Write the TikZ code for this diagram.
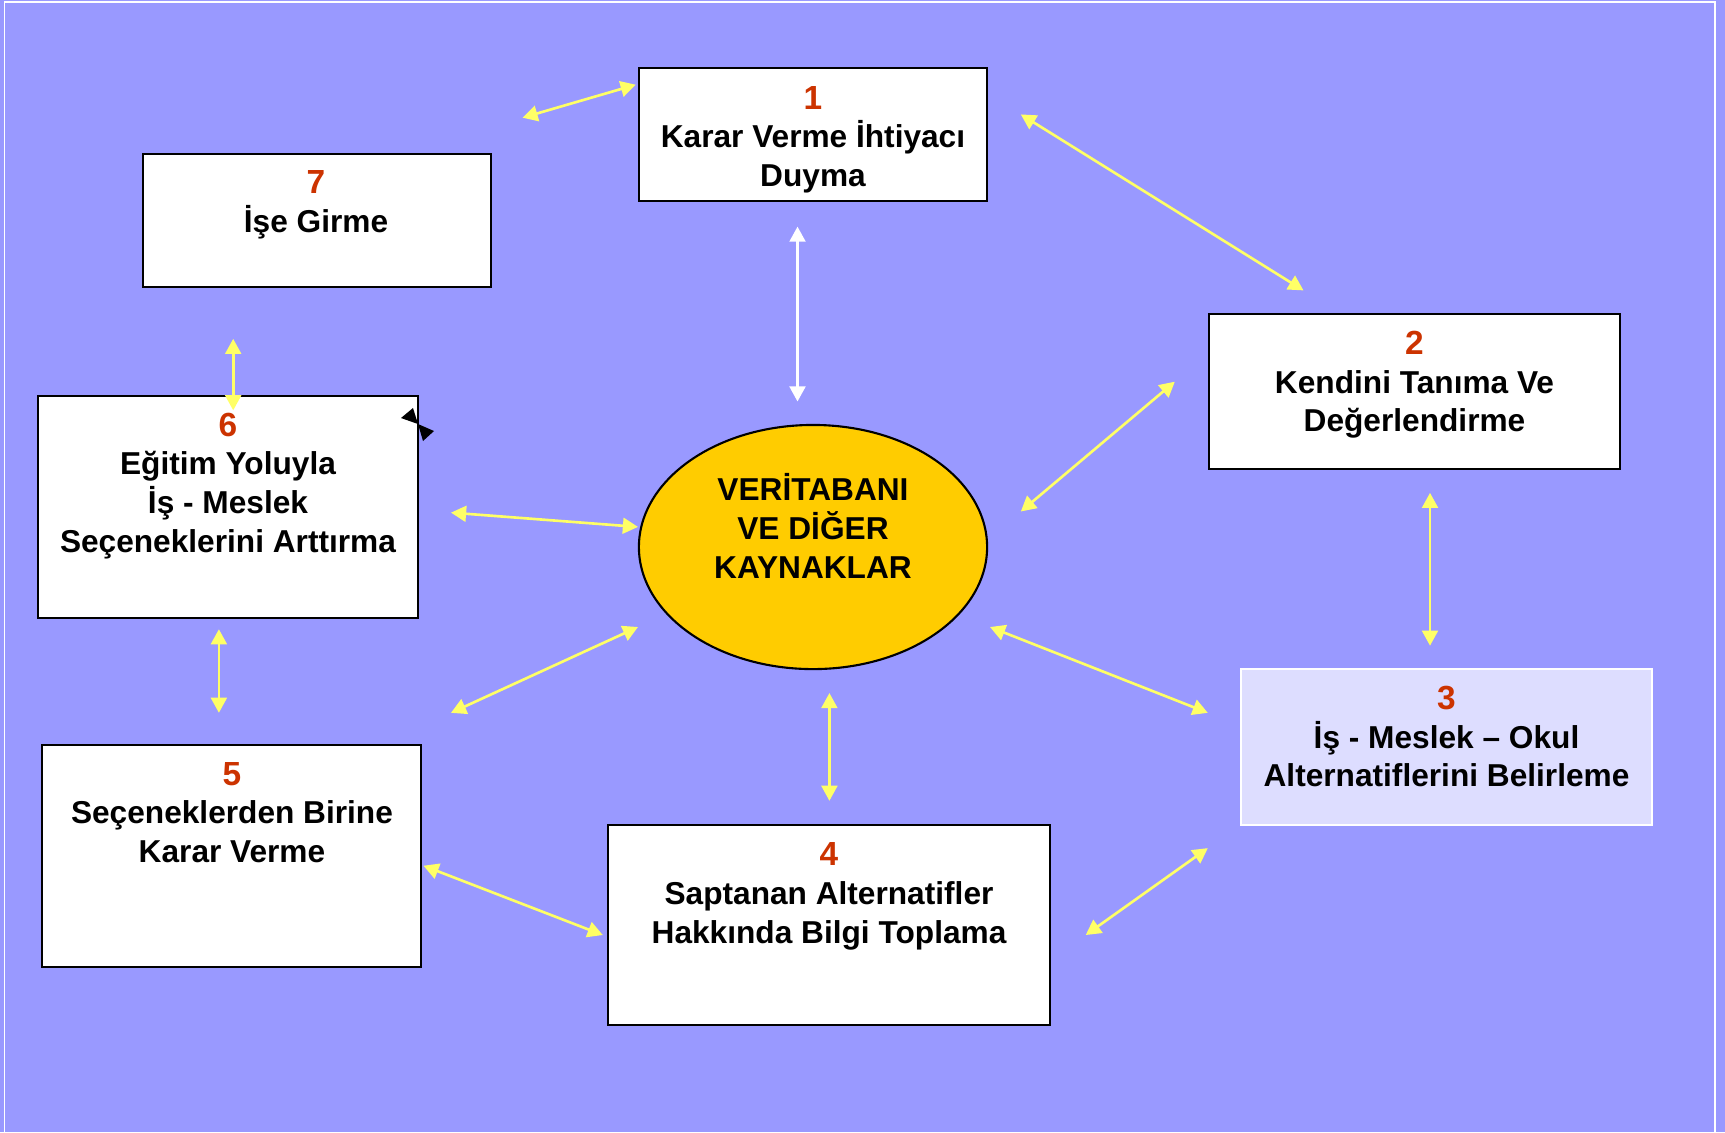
\documentclass[tikz,border=0pt]{standalone}
\usepackage{fontspec}
\setmainfont{Liberation Sans}
\usetikzlibrary{arrows.meta,shapes.geometric}

\definecolor{bgblue}{HTML}{9999FF}
\definecolor{numred}{HTML}{CC3300}
\definecolor{boxlilac}{HTML}{DDDDFF}
\definecolor{dbgold}{HTML}{FFCC00}
\definecolor{linkyellow}{HTML}{FFFF66}

\newcommand{\boxnum}[1]{{\fontsize{9.5}{11}\selectfont\color{numred}#1}}

\begin{document}
\begin{tikzpicture}[x=0.01cm,y=-0.01cm,
    stage/.style={draw=black,line width=0.6pt,fill=white,inner sep=0pt},
    stagetext/.style={anchor=north,align=center,inner sep=0pt,
      font=\bfseries\fontsize{9}{11}\selectfont},
    link/.style={draw=linkyellow,line width=0.75pt,
      {Triangle[length=4.3pt,width=4.5pt]}-{Triangle[length=4.3pt,width=4.5pt]}}]
          \useasboundingbox (0,0) rectangle (1725,1132);
          \fill[bgblue] (0,0) rectangle (1725,1132);
          \draw[white,line width=0.45pt] (4.5,2) rectangle (1715,1150);

          % kutular
          \node[stage,minimum width=3.48cm,minimum height=1.33cm] (karar) at (813,134.5) {};
          \node[stage,minimum width=3.48cm,minimum height=1.33cm] (ise) at (317,220.5) {};
          \node[stage,minimum width=4.11cm,minimum height=1.55cm] (kendini) at (1414.5,391.5) {};
          \node[stage,minimum width=3.795cm,minimum height=2.22cm] (egitim) at (228,507) {};
          \node[stage,draw=white,fill=boxlilac,minimum width=4.11cm,minimum height=1.56cm] (alternatif) at (1446.5,747) {};
          \node[stage,minimum width=3.79cm,minimum height=2.22cm] (secenek) at (231.5,856) {};
          \node[stage,minimum width=4.42cm,minimum height=2.0cm] (bilgi) at (829,925) {};
          \node[ellipse,draw=black,line width=0.6pt,fill=dbgold,inner sep=0pt,
                minimum width=3.48cm,minimum height=2.44cm] (kaynak) at (813,547) {};

          \node[stagetext] (kararyazi) at (813,85.5) {\boxnum{1}\\Karar Verme İhtiyacı\\Duyma};
          \node[stagetext] (iseyazi) at (316,170) {\boxnum{7}\\İşe Girme};
          \node[stagetext] (kendiniyazi) at (1414.5,330.5) {\boxnum{2}\\Kendini Tanıma Ve\\Değerlendirme};
          \node[stagetext] (egitimyazi) at (228,412) {\boxnum{6}\\Eğitim Yoluyla\\İş - Meslek\\Seçeneklerini Arttırma};
          \node[stagetext] (alternatifyazi) at (1446.5,685.5) {\boxnum{3}\\İş - Meslek -- Okul\\Alternatiflerini Belirleme};
          \node[stagetext] (secenekyazi) at (232,761.5) {\boxnum{5}\\Seçeneklerden Birine\\Karar Verme};
          \node[stagetext] (bilgiyazi) at (829,842) {\boxnum{4}\\Saptanan Alternatifler\\Hakkında Bilgi Toplama};
          \node[stagetext] (kaynakyazi) at (813,473) {VERİTABANI\\VE DİĞER\\KAYNAKLAR};

          % oklarin uclari
          \coordinate (a1) at (522.5,117.7);   \coordinate (b1) at (635.8,84.7);
          \coordinate (a2) at (1020.8,114.4);  \coordinate (b2) at (1303.5,290.4);
          \coordinate (a3) at (797.5,226.6);   \coordinate (b3) at (797.5,401.5);
          \coordinate (a4) at (1020.8,511.5);  \coordinate (b4) at (1174.8,381.7);
          \coordinate (a5) at (1430,492.8);    \coordinate (b5) at (1430,645.7);
          \coordinate (a6) at (990,627);       \coordinate (b6) at (1207.8,712.8);
          \coordinate (a7) at (1085.7,935);    \coordinate (b7) at (1207.8,848.1);
          \coordinate (a8) at (829.4,693);     \coordinate (b8) at (829.4,800.8);
          \coordinate (a9) at (423.5,865.7);   \coordinate (b9) at (602.8,935);
          \coordinate (a10) at (451,712.8);    \coordinate (b10) at (638,627);
          \coordinate (a11) at (218.9,629.2);  \coordinate (b11) at (218.9,712.8);
          \coordinate (a12) at (451,512.6);    \coordinate (b12) at (638,526.9);
          \coordinate (a13) at (233.2,338.8);  \coordinate (b13) at (233.2,410.3);
          \coordinate (bow) at (418,424);

          \foreach \i in {1,2,4,5,6,7,8,9,10,11,12,13}
            \draw[link] (a\i) -- (b\i);
          \draw[link,draw=white] (a3) -- (b3);

          \fill[black] (bow) -- (401,418) -- (413,408) -- cycle;
          \fill[black] (bow) -- (434,431) -- (423,441) -- cycle;
        \end{tikzpicture}
\end{document}
